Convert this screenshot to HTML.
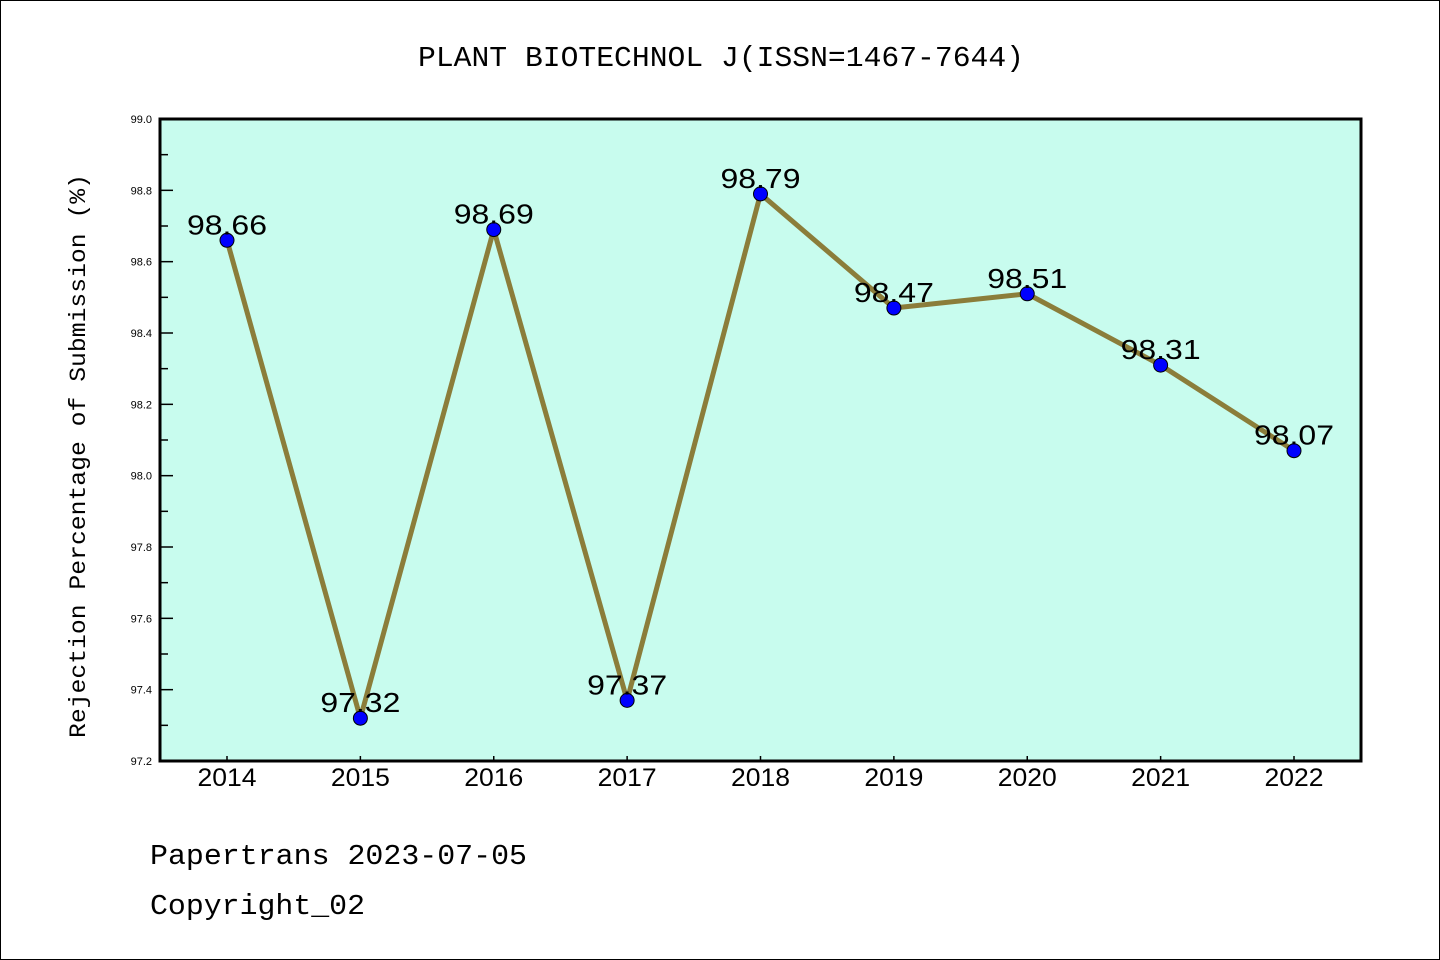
<!DOCTYPE html>
<html><head><meta charset="utf-8"><style>
html,body{margin:0;padding:0;background:#fff;}
svg{display:block;font-family:"Liberation Sans","DejaVu Sans",sans-serif;}
</style></head><body>
<svg id="chart" width="1440" height="960" viewBox="0 0 1440 960" xmlns="http://www.w3.org/2000/svg">
<rect x="0.5" y="0.5" width="1439" height="959" fill="#fff" stroke="#000" stroke-width="1"/>
<text x="418" y="66" font-size="29" textLength="606" lengthAdjust="spacingAndGlyphs" font-family="Liberation Mono, monospace">PLANT BIOTECHNOL J(ISSN=1467-7644)</text>
<rect x="160" y="119" width="1201" height="642" fill="#c8fcee"/>
<g id="ticks"></g>
<g id="series"></g>
<rect x="160" y="119" width="1201" height="642" fill="none" stroke="#000" stroke-width="3"/>
<text transform="translate(85,738) rotate(-90)" font-size="23" textLength="564" lengthAdjust="spacingAndGlyphs" font-family="Liberation Mono, monospace">Rejection Percentage of Submission (%)</text>
<text x="150" y="864" font-size="29" textLength="377" lengthAdjust="spacingAndGlyphs" font-family="Liberation Mono, monospace">Papertrans 2023-07-05</text>
<text x="150" y="914" font-size="29" textLength="215" lengthAdjust="spacingAndGlyphs" font-family="Liberation Mono, monospace">Copyright_02</text>
</svg>
<script>
const categories = ['2014','2015','2016','2017','2018','2019','2020','2021','2022'];
const values = [98.66, 97.32, 98.69, 97.37, 98.79, 98.47, 98.51, 98.31, 98.07];
const yTicks = ['97.2','97.4','97.6','97.8','98.0','98.2','98.4','98.6','98.8','99.0'];
const NS='http://www.w3.org/2000/svg';
const L=160,R=1361,T=119,B=761,yMin=97.2,yMax=99.0;
const x0=227,x1=1294;
function xs(i){return x0+(x1-x0)*i/(categories.length-1);}
function ys(v){return B-(v-yMin)/(yMax-yMin)*(B-T);}
function mk(tag,a,p){const e=document.createElementNS(NS,tag);for(const k in a)e.setAttribute(k,a[k]);p.appendChild(e);return e;}
const tg=document.getElementById('ticks'), sg=document.getElementById('series');
yTicks.forEach((t,i)=>{
  const v=parseFloat(t),y=ys(v);
  const ln=mk('line',{x1:L,x2:L+13,y1:y,y2:y,stroke:'#000','stroke-width':1.5},tg);
  
  
  const tx=mk('text',{x:L-8,y:y+4,'font-size':11,'text-anchor':'end'},tg);
  tx.textContent=t;
  
  
  if(i<yTicks.length-1){
    const ym=ys(v+0.1);
    const mn=mk('line',{x1:L,x2:L+8,y1:ym,y2:ym,stroke:'#000','stroke-width':1.5},tg);
    
    
  }
});
categories.forEach((c,i)=>{
  const x=xs(i);
  const ln=mk('line',{x1:x,x2:x,y1:B,y2:B-5,stroke:'#000','stroke-width':1.5},tg);
  
  
  const tx=mk('text',{x:x,y:B+25,'font-size':25,'text-anchor':'middle',textLength:59,lengthAdjust:'spacingAndGlyphs'},tg);
  tx.textContent=c;
  
  
});
const pl=mk('polyline',{points:values.map((v,i)=>xs(i)+','+ys(v)).join(' '),fill:'none',stroke:'#8b7d3a','stroke-width':5,'stroke-linejoin':'round'},sg);


values.forEach((v,i)=>{
  const c=mk('circle',{cx:xs(i),cy:ys(v),r:7,fill:'#0000ff',stroke:'#000','stroke-width':1},sg);
  
  
});
values.forEach((v,i)=>{
  const t=mk('text',{x:xs(i),y:ys(v)-6,'font-size':28,'text-anchor':'middle',textLength:80,lengthAdjust:'spacingAndGlyphs'},sg);
  t.textContent=v.toFixed(2);
  
  
});
</script>
</body></html>
